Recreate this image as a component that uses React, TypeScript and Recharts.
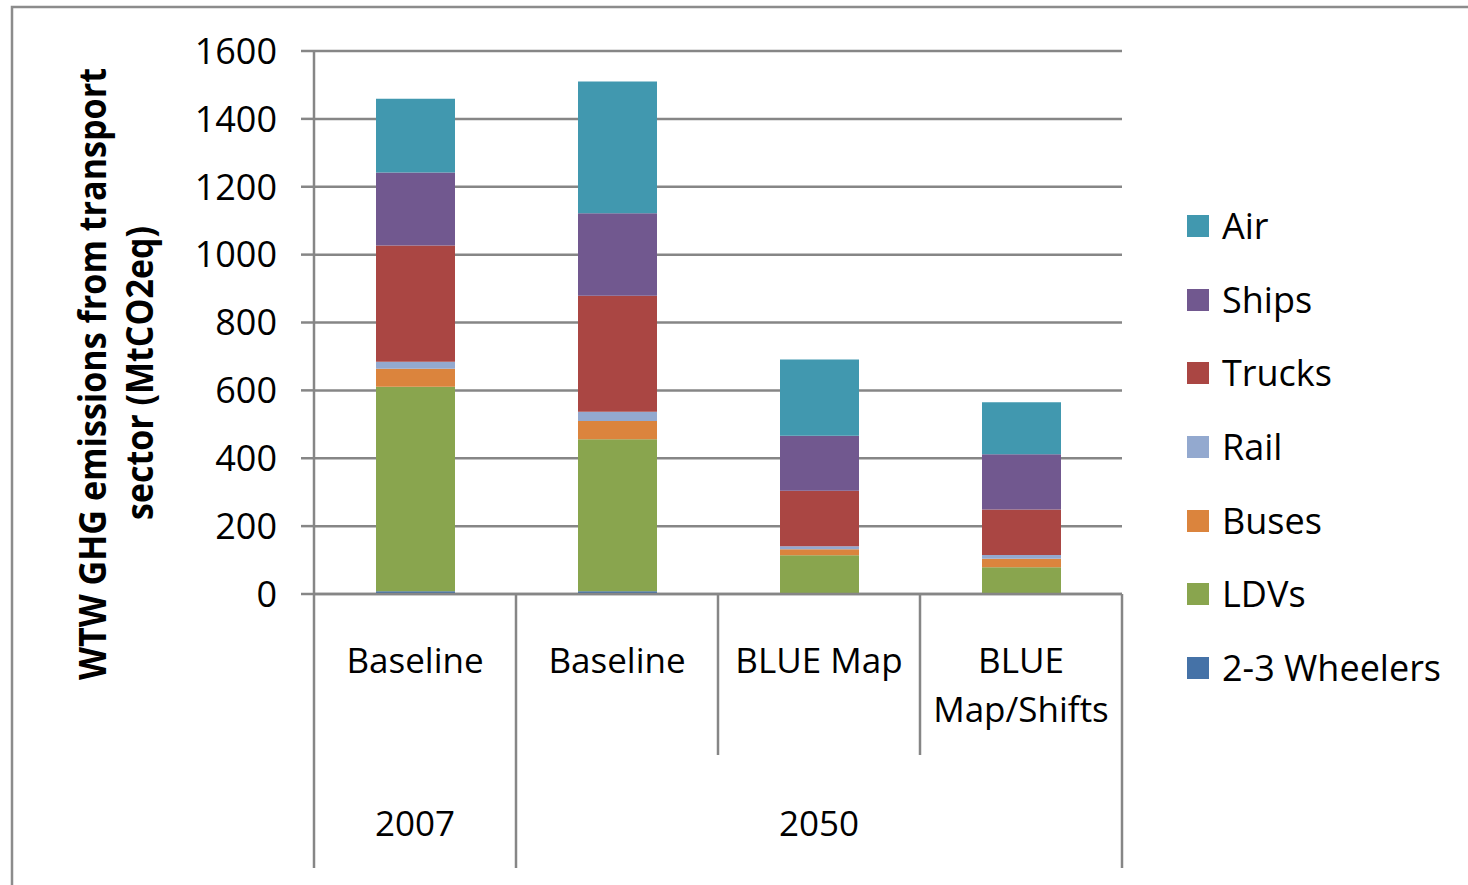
import React from "react";
import { BarChart, Bar, XAxis, YAxis, CartesianGrid } from "recharts";

// categories along the x axis, grouped by year underneath
const categories = ["Baseline", "Baseline", "BLUE Map", "BLUE Map/Shifts"];
const categoryLines = [["Baseline"], ["Baseline"], ["BLUE Map"], ["BLUE", "Map/Shifts"]];
const groups = [
  { label: "2007", size: 1 },
  { label: "2050", size: 3 },
];

// WTW GHG emissions per mode (MtCO2eq)
const wheelers = [8, 8, 1, 1];
const ldvs = [603, 448, 113, 78];
const buses = [53, 54, 18, 25];
const rail = [20, 27, 9, 11];
const trucks = [343, 342, 163, 134];
const ships = [215, 243, 162, 163];
const air = [217, 388, 225, 153];

const yTicks = [0, 200, 400, 600, 800, 1000, 1200, 1400, 1600];

// stacked bottom to top
const series = [
  { key: "wheelers", name: "2-3 Wheelers", color: "#4572A7", values: wheelers },
  { key: "ldvs", name: "LDVs", color: "#89A54E", values: ldvs },
  { key: "buses", name: "Buses", color: "#DB843D", values: buses },
  { key: "rail", name: "Rail", color: "#93A9CF", values: rail },
  { key: "trucks", name: "Trucks", color: "#AA4643", values: trucks },
  { key: "ships", name: "Ships", color: "#71588F", values: ships },
  { key: "air", name: "Air", color: "#4198AF", values: air },
];

const data = categories.map((name, i) => {
  const row: Record<string, string | number> = { name };
  series.forEach((s) => {
    row[s.key] = s.values[i];
  });
  return row;
});

const W = 1468;
const H = 885;
const MARGIN = { top: 51, right: 347, bottom: 0, left: 213 };
const Y_AXIS_W = 100;
const X_AXIS_H = 291;
const PLOT_W = W - MARGIN.left - MARGIN.right - Y_AXIS_W;
const BAND = PLOT_W / categories.length;

const AXIS_GREY = "#868686";
const FONT = "'Open Sans', sans-serif";

function groupOf(i: number) {
  let start = 0;
  for (const g of groups) {
    if (i >= start && i < start + g.size) return { ...g, start };
    start += g.size;
  }
  return { ...groups[0], start: 0 };
}

function CategoryTick(props: any) {
  const { x, y, index } = props;
  const left = x - BAND / 2;
  const right = x + BAND / 2;
  const group = groupOf(index);
  const groupStart = group.start === index;
  const last = index === categories.length - 1;
  return (
    <g>
      <line x1={left} x2={left} y1={y} y2={y + (groupStart ? 274 : 161)} stroke={AXIS_GREY} strokeWidth={2.5} />
      {last && <line x1={right} x2={right} y1={y} y2={y + 274} stroke={AXIS_GREY} strokeWidth={2.5} />}
      <text textAnchor="middle" fontFamily={FONT} fontSize={35} fill="#000">
        {categoryLines[index].map((line, k) => (
          <tspan key={k} x={x} y={y + 79 + k * 49}>
            {line}
          </tspan>
        ))}
      </text>
      {groupStart && (
        <text x={left + (group.size * BAND) / 2} y={y + 242} textAnchor="middle" fontFamily={FONT} fontSize={35} fill="#000">
          {group.label}
        </text>
      )}
    </g>
  );
}

export default function App() {
  const legendItems = [...series].reverse();
  return (
    <div style={{ position: "absolute", left: 0, top: 0, width: W, height: H, background: "#fff", overflow: "hidden" }}>
      <svg width={W} height={H} style={{ position: "absolute", left: 0, top: 0 }}>
        <rect x={12} y={7} width={W + 100} height={H + 100} fill="none" stroke="#8c8c8c" strokeWidth={2.5} />
        <g fontFamily={FONT} fontWeight={700} fontSize={37} fill="#000" textAnchor="middle">
          <text x={106} y={374} transform="rotate(-90 106 374)" textLength={612} lengthAdjust="spacingAndGlyphs">
            WTW GHG emissions from transport
          </text>
          <text x={153} y={373} transform="rotate(-90 153 373)" textLength={294} lengthAdjust="spacingAndGlyphs">
            sector (MtCO2eq)
          </text>
        </g>
      </svg>
      <div style={{ position: "absolute", left: 1, top: 0 }}>
        <BarChart width={W} height={H} data={data} margin={MARGIN}>
          <CartesianGrid vertical={false} stroke={AXIS_GREY} strokeWidth={2.5} />
          <XAxis
            dataKey="name"
            height={X_AXIS_H}
            tickLine={false}
            tickSize={0}
            tickMargin={0}
            axisLine={{ stroke: AXIS_GREY, strokeWidth: 2.5 }}
            tick={<CategoryTick />}
            interval={0}
          />
          <YAxis
            width={Y_AXIS_W}
            domain={[0, 1600]}
            ticks={yTicks}
            tickSize={13}
            tickMargin={24}
            axisLine={{ stroke: AXIS_GREY, strokeWidth: 2.5 }}
            tickLine={{ stroke: AXIS_GREY, strokeWidth: 2.5 }}
            tick={{ fontFamily: FONT, fontSize: 36, fill: "#000" }}
          />
          {series.map((s) => (
            <Bar key={s.key} dataKey={s.key} name={s.name} stackId="a" fill={s.color} barSize={79} isAnimationActive={false} />
          ))}
        </BarChart>
      </div>
      <div style={{ position: "absolute", left: 1187, top: 215, fontFamily: FONT, fontSize: 36, color: "#000" }}>
        {legendItems.map((s) => (
          <div key={s.key} style={{ display: "flex", alignItems: "center", height: 22, marginBottom: 51.7 }}>
            <span style={{ width: 22, height: 22, background: s.color, display: "inline-block", marginRight: 13 }} />
            <span style={{ lineHeight: "22px", whiteSpace: "nowrap" }}>{s.name}</span>
          </div>
        ))}
      </div>
    </div>
  );
}
